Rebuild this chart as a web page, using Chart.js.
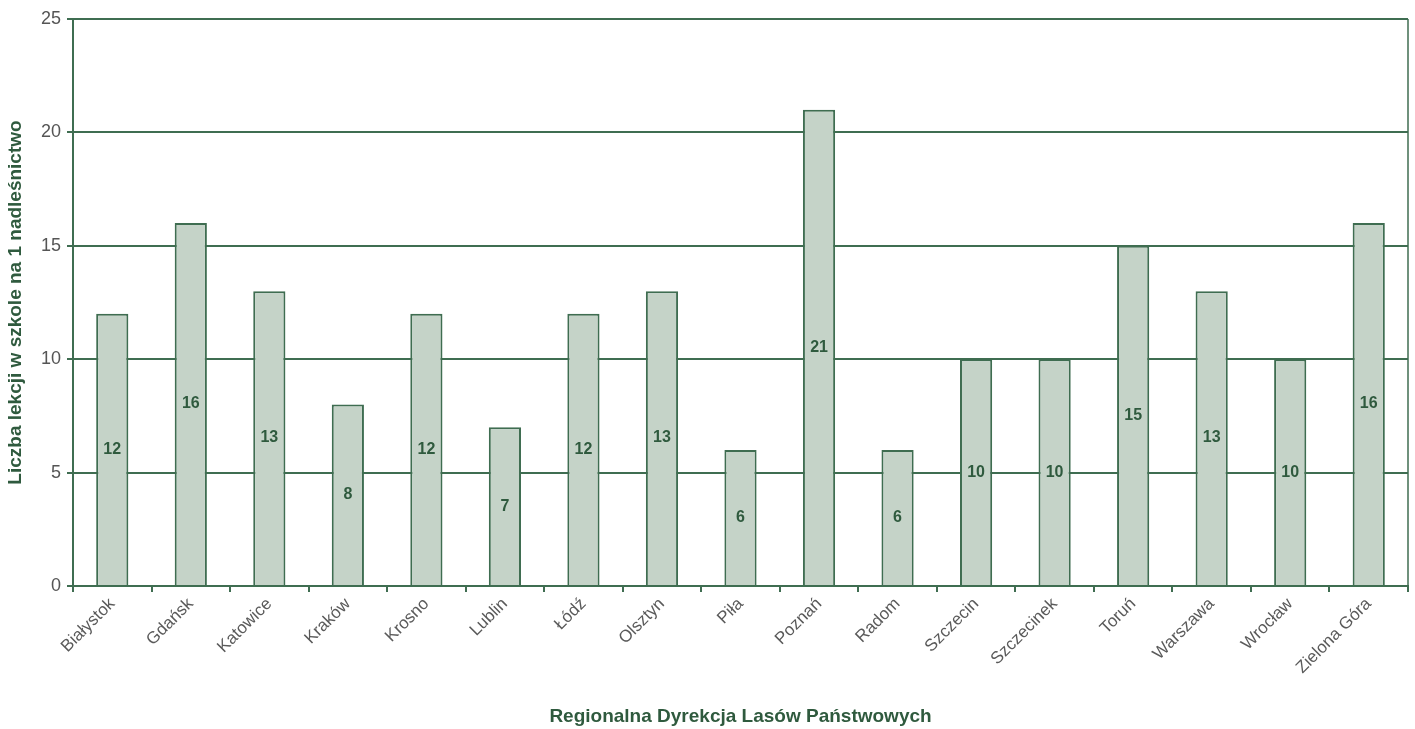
<!DOCTYPE html>
<html>
<head>
<meta charset="utf-8">
<script src="https://cdn.jsdelivr.net/npm/chart.js@4.4.1/dist/chart.umd.min.js"></script>
<style>
  html, body { margin: 0; padding: 0; background: #fff; }
  #c { display: block; }
</style>
</head>
<body>
<canvas id="c" width="1415" height="729"></canvas>
<script>
const regions = ["Białystok", "Gdańsk", "Katowice", "Kraków", "Krosno", "Lublin", "Łódź", "Olsztyn", "Piła", "Poznań", "Radom", "Szczecin", "Szczecinek", "Toruń", "Warszawa", "Wrocław", "Zielona Góra"];
const lessons = [12, 16, 13, 8, 12, 7, 12, 13, 6, 21, 6, 10, 10, 15, 13, 10, 16];
const yTicks = [0, 5, 10, 15, 20, 25];

const green = "#3f6d51";
const font = "'Liberation Sans', Arial, sans-serif";

// value labels in the middle of each bar
const midLabels = {
  id: "midLabels",
  afterDatasetsDraw(chart) {
    const ctx = chart.ctx;
    const meta = chart.getDatasetMeta(0);
    ctx.save();
    ctx.font = "bold 16px " + font;
    ctx.fillStyle = "#2f5a3e";
    ctx.textAlign = "center";
    ctx.textBaseline = "middle";
    meta.data.forEach((bar, i) => {
      const y = (bar.y + bar.base) / 2;
      ctx.fillText(String(lessons[i]), bar.x, y);
    });
    ctx.restore();
  },
};

// right edge of the plot frame
const frame = {
  id: "frame",
  afterDraw(chart) {
    const { ctx, chartArea: a } = chart;
    ctx.save();
    ctx.strokeStyle = green;
    ctx.lineWidth = 1.5;
    ctx.beginPath();
    ctx.moveTo(a.right, a.top);
    ctx.lineTo(a.right, a.bottom);
    ctx.stroke();
    ctx.restore();
  },
};

new Chart(document.getElementById("c"), {
  type: "bar",
  data: {
    labels: regions,
    datasets: [{
      data: lessons,
      backgroundColor: "#c5d3c8",
      borderColor: green,
      borderWidth: 2,
      barPercentage: 0.41,
      categoryPercentage: 1,
    }],
  },
  options: {
    responsive: false,
    animation: false,
    layout: { padding: { top: 19, right: 7, left: 0, bottom: 0 } },
    plugins: { legend: { display: false }, tooltip: { enabled: false } },
    scales: {
      x: {
        offset: true,
        grid: { offset: true, drawOnChartArea: false, drawTicks: true, tickLength: 6, color: green, lineWidth: 2 },
        border: { color: green, width: 2 },
        ticks: {
          color: "#5a5a5a",
          font: { family: font, size: 17 },
          minRotation: 45,
          maxRotation: 45,
          autoSkip: false,
          padding: 2,
        },
        title: {
          display: true,
          text: "Regionalna Dyrekcja Lasów Państwowych",
          color: "#2f5a3e",
          font: { family: font, size: 19, weight: "bold" },
          padding: { top: 4, bottom: 1 },
        },
        afterFit(scale) { scale.height = 143; },
      },
      y: {
        min: 0,
        max: 25,
        afterBuildTicks(scale) { scale.ticks = yTicks.map((v) => ({ value: v })); },
        grid: { color: green, lineWidth: 2, tickLength: 6 },
        border: { color: green, width: 2 },
        ticks: {
          color: "#555",
          font: { family: font, size: 18 },
          padding: 6,
        },
        title: {
          display: true,
          text: "Liczba lekcji w szkole na 1 nadleśnictwo",
          color: "#2f5a3e",
          font: { family: font, size: 19, weight: "bold" },
          padding: { top: 4, bottom: 4 },
        },
        afterFit(scale) { scale.width = 73; },
      },
    },
  },
  plugins: [midLabels, frame],
});
</script>
</body>
</html>
